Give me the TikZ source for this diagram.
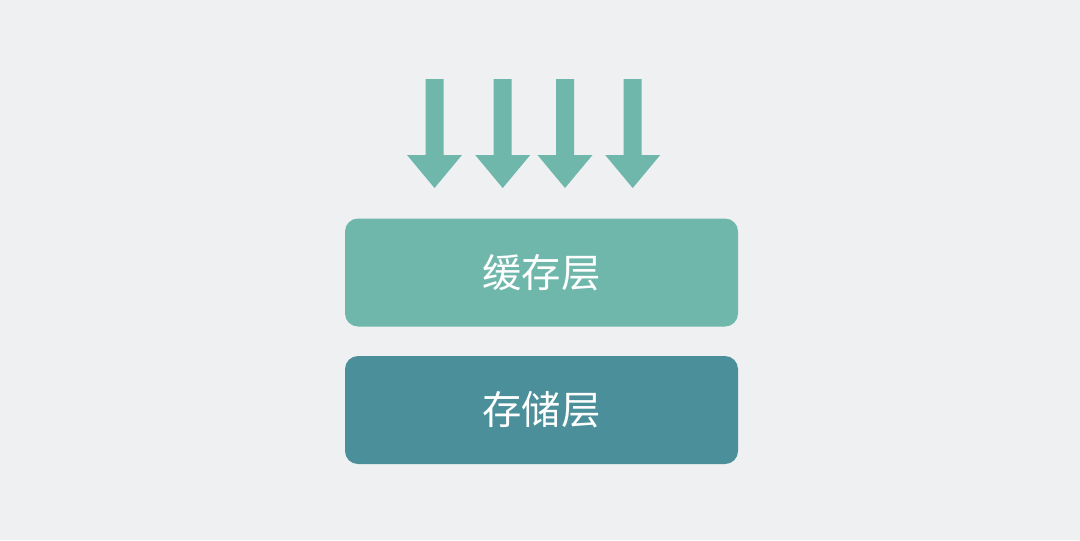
\documentclass[tikz,border=0pt]{standalone}
\usepackage{fontspec}
\setmainfont{Noto Sans CJK SC}
\usetikzlibrary{positioning}
\definecolor{fondo}{HTML}{EFF0F2}
\definecolor{cache}{HTML}{6FB7AB}
\definecolor{almacen}{HTML}{4A8F99}
\tikzset{
	capa/.style={rounded corners=9.75pt, minimum width=294.75pt, minimum height=81pt, text=white, font=\fontsize{29.5}{31}\selectfont}, % Cajas de las capas
	flecha/.style={fill=cache} % Flechas de entrada
}

\begin{document}
\begin{tikzpicture}[x=0.75pt, y=-0.75pt]
	\fill[fondo] (0,0) rectangle (1080,540);
	\useasboundingbox (0,0) rectangle (1080,540);
	\node[capa, fill=cache] (C1) at (541.5,272.5) {缓存层};
	\node[capa, fill=almacen, below=21.75pt of C1] (C2) {存储层};
	\foreach \x/\n in {434.5/1, 502.7/2, 565/3, 632.7/4}{
		\coordinate (P\n) at (\x,188);
		\fill[flecha] (\x-9,79) -- (\x+9,79) -- (\x+9,155) -- (\x+27.5,155)
			-- (P\n) -- (\x-27.5,155) -- (\x-9,155) -- cycle;
	}
\end{tikzpicture}
\end{document}
